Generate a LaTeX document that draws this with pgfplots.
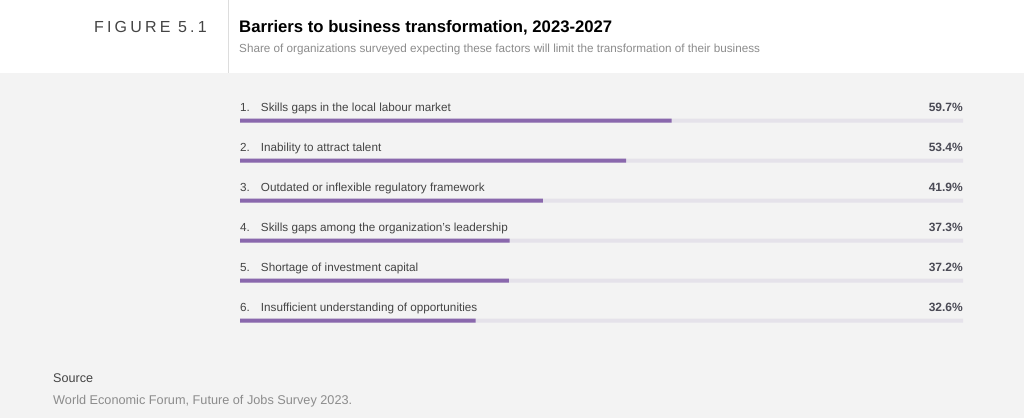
\documentclass[border=0pt]{standalone}
\usepackage{pgfplots}
\pgfplotsset{compat=1.18}
\usepackage{fontspec}
\setmainfont{Liberation Sans}
\newfontfamily\spaced[LetterSpace=20]{Liberation Sans}

\definecolor{bg}{HTML}{F3F3F3}
\definecolor{track}{HTML}{E5E2EA}
\definecolor{bar}{HTML}{8A68AD}
\definecolor{lbl}{HTML}{444444}
\definecolor{val}{HTML}{4A4A55}
\definecolor{sub}{HTML}{8C8C8C}
\definecolor{sep}{HTML}{DDDDDD}

\begin{document}
\begin{tikzpicture}[x=1pt,y=1pt]
% page frame, 1 unit = 1 px of the reference
\fill[white] (0,0) rectangle (1024,-72);
\fill[bg] (0,-72) rectangle (1024,-417);
\draw[sep, line width=1pt] (228,0) -- (228,-72);

\node[anchor=base east, inner sep=0, text=lbl, font=\fontsize{16}{18}\selectfont\spaced] at (207,-31.5) {FIGURE 5.1};
\node[anchor=base west, inner sep=0, font=\fontsize{16.7}{18}\selectfont\bfseries] at (239,-32) {Barriers to business transformation, 2023-2027};
\node[anchor=base west, inner sep=0, text=sub, font=\fontsize{11.7}{13}\selectfont] at (239,-52) {Share of organizations surveyed expecting these factors will limit the transformation of their business};

\node[anchor=base west, inner sep=0, text=lbl, font=\fontsize{12.6}{14}\selectfont] at (53,-381.5) {Source};
\node[anchor=base west, inner sep=0, text=sub, font=\fontsize{12.7}{14}\selectfont] at (53,-404) {World Economic Forum, Future of Jobs Survey 2023.};

\begin{axis}[
  at={(240pt,-100pt)}, anchor=north west,
  width=723pt, height=240pt, scale only axis,
  xmin=0, xmax=100, ymin=0.5, ymax=6.5, y dir=reverse,
  axis line style={draw=none}, ticks=none,
  xbar, bar width=4pt, bar shift=0pt,
  clip=false,
]
\addplot[fill=track, draw=none] coordinates {(100,1) (100,2) (100,3) (100,4) (100,5) (100,6)};
\addplot[fill=bar, draw=none] coordinates {(59.7,1) (53.4,2) (41.9,3) (37.3,4) (37.2,5) (32.6,6)};

\foreach \i/\t/\v in {1/Skills gaps in the local labour market/59.7,
                      2/Inability to attract talent/53.4,
                      3/Outdated or inflexible regulatory framework/41.9,
                      4/Skills gaps among the organization’s leadership/37.3,
                      5/Shortage of investment capital/37.2,
                      6/Insufficient understanding of opportunities/32.6} {
  \edef\temp{\noexpand\node[anchor=base west, inner sep=0, text=lbl, font=\noexpand\fontsize{11.7}{13}\noexpand\selectfont] at (axis cs:0,\i) [yshift=9pt] {\i.\noexpand\hspace{11pt}\t};
  \noexpand\node[anchor=base east, inner sep=0, text=val, font=\noexpand\fontsize{12}{13}\noexpand\selectfont\noexpand\bfseries] at (axis cs:100,\i) [yshift=9pt] {\v\noexpand\%};}
  \temp
}
\end{axis}
\end{tikzpicture}
\end{document}
